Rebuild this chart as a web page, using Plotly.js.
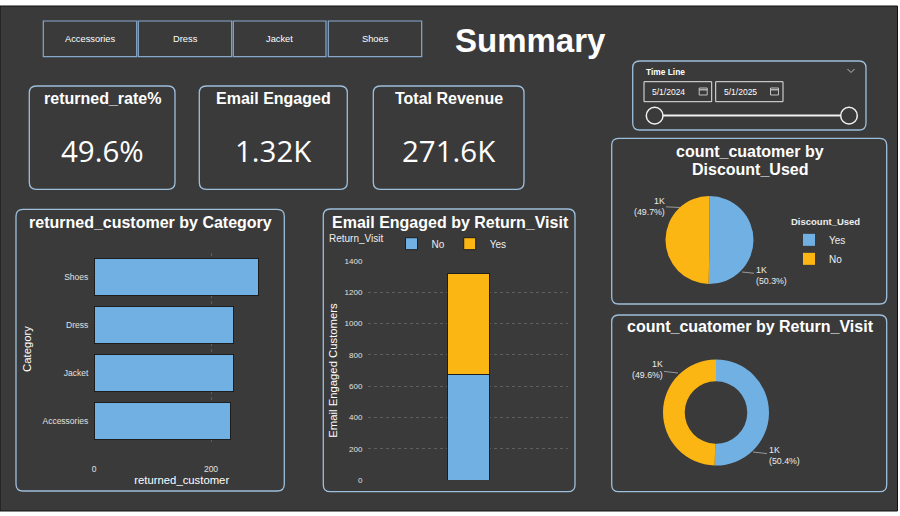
<!DOCTYPE html>
<html><head><meta charset="utf-8">
<script src="https://cdn.plot.ly/plotly-3.0.1.min.js"></script>
<style>html,body{margin:0;padding:0;background:#fff;overflow:hidden}#chart{width:900px;height:516px}</style>
</head><body><div id="chart"></div>
<script>
// ---------- data ----------
const categories = ['Shoes', 'Dress', 'Jacket', 'Accessories'];
const returnedCustomers = [281, 239, 238, 234];
const returnVisitLabels = ['No', 'Yes'];
const emailEngagedByVisit = [675, 642];
const discountLabels = ['Yes', 'No'];
const discountCounts = [1006, 994];
const visitLabels = ['No', 'Yes'];
const visitCounts = [1008, 992];
const totalRevenue = 271600;
const dateRange = ['5/1/2024', '5/1/2025'];
const barTicks = [0, 200];
const emailTicks = [0, 200, 400, 600, 800, 1000, 1200, 1400];

// ---------- helpers ----------
const W = 900, H = 516;
const px = x => x / W, py = y => 1 - y / H;
const BG = '#3a3a3a', BLUE = '#71B0E2', YELLOW = '#FCB614', BORDER = '#9dbfdc', WHITE = '#ffffff';
const FONT = 'Liberation Sans, Arial, sans-serif';
const VFONT = 'Open Sans, Noto Sans, sans-serif';
const sum = a => a.reduce((s, v) => s + v, 0);

const shapes = [];
const annotations = [];

function rr(x0, y0, x1, y1, r) {
  const rx = r / W, ry = r / H;
  const X0 = px(x0), X1 = px(x1), T = py(y0), B = py(y1);
  if (!r) return `M${X0},${T} L${X1},${T} L${X1},${B} L${X0},${B} Z`;
  return `M${X0 + rx},${T} L${X1 - rx},${T} Q${X1},${T} ${X1},${T - ry} L${X1},${B + ry} Q${X1},${B} ${X1 - rx},${B} ` +
    `L${X0 + rx},${B} Q${X0},${B} ${X0},${B + ry} L${X0},${T - ry} Q${X0},${T} ${X0 + rx},${T} Z`;
}
function card(x0, y0, x1, y1, r, color, w) {
  shapes.push({type: 'path', xref: 'paper', yref: 'paper', path: rr(x0, y0, x1, y1, r),
    line: {color: color || BORDER, width: w || 1.3}, fillcolor: 'rgba(0,0,0,0)', layer: 'below'});
}
function txt(text, x, y, size, opts) {
  opts = opts || {};
  annotations.push(Object.assign({
    xref: 'paper', yref: 'paper', x: px(x), y: py(y), text: text, showarrow: false,
    font: {family: opts.family || FONT, size: size, color: opts.color || WHITE},
    xanchor: opts.xanchor || 'center', yanchor: 'middle', align: opts.align || 'center'
  }, opts.extra || {}));
}
function pieLabel(text, ex, ey, ax, ay, align) {
  annotations.push({xref: 'paper', yref: 'paper', x: px(ex), y: py(ey), text: text,
    showarrow: true, arrowhead: 0, arrowwidth: 0.8, arrowcolor: '#b0b0b0', ax: ax, ay: ay,
    standoff: 0, startstandoff: 0, align: align,
    font: {family: FONT, size: 8.8, color: '#ececec'}});
}

// ---------- background ----------
shapes.push({type: 'rect', xref: 'paper', yref: 'paper', x0: 0, x1: px(897.5), y0: py(511), y1: py(6),
  fillcolor: BG, line: {color: '#111', width: 1}, layer: 'below'});

// ---------- category buttons ----------
const buttonCats = categories.slice().sort();
const btnX = [[43.3, 136.7], [138.3, 231.7], [233.3, 326], [328.3, 421.7]];
buttonCats.forEach((c, i) => {
  card(btnX[i][0], 21, btnX[i][1], 56.7, 0, '#86a9cb', 1.2);
  txt(c, (btnX[i][0] + btnX[i][1]) / 2, 38.7, 9.3);
});

// ---------- title ----------
txt('<b>Summary</b>', 530.5, 40, 33);

// ---------- KPI cards ----------
const returnedRate = visitCounts[1] / sum(visitCounts) * 100;
const emailTotal = sum(emailEngagedByVisit);
const kpiTitles = ['returned_rate%', 'Email Engaged', 'Total Revenue'];
const kpiValues = [returnedRate.toFixed(1) + '%', (emailTotal / 1000).toFixed(2) + 'K', (totalRevenue / 1000).toFixed(1) + 'K'];
const kpiX = [[29.3, 175], [199.3, 347.3], [373.3, 524]];
kpiTitles.forEach((t, i) => {
  card(kpiX[i][0], 86, kpiX[i][1], 189.3, 7);
  const cx = (kpiX[i][0] + kpiX[i][1]) / 2;
  txt('<b>' + t + '</b>', cx, 98.7, 16);
  txt(kpiValues[i], cx, 150.5, 29.5, {family: VFONT});
});

// ---------- time line slicer ----------
card(632.7, 61, 866, 130, 7);
txt('<b>Time Line</b>', 644, 72, 8.4, {xanchor: 'left'});
shapes.push({type: 'path', xref: 'paper', yref: 'paper',
  path: `M${px(847.5)},${py(69)} L${px(851)},${py(72.5)} L${px(854.5)},${py(69)}`,
  line: {color: '#bdbdbd', width: 1}, layer: 'below'});
const dateBoxes = [[644, 711.7], [715.7, 783]];
dateRange.forEach((d, i) => {
  const [a, b] = dateBoxes[i];
  card(a, 81.7, b, 101.7, 0, '#e6e6e6', 1);
  txt(d, a + 6, 92, 8.5, {xanchor: 'left'});
  card(b - 12.5, 88, b - 4.5, 95, 0, '#cfcfcf', 0.9);
  shapes.push({type: 'line', xref: 'paper', yref: 'paper', x0: px(b - 12.5), x1: px(b - 4.5), y0: py(89.8), y1: py(89.8),
    line: {color: '#cfcfcf', width: 1.2}, layer: 'below'});
});
shapes.push({type: 'line', xref: 'paper', yref: 'paper', x0: px(663), x1: px(841), y0: py(115.5), y1: py(115.5),
  line: {color: '#f0f0f0', width: 2}, layer: 'below'});
[[646.3, 663], [840.7, 857.3]].forEach(([a, b]) => {
  shapes.push({type: 'circle', xref: 'paper', yref: 'paper', x0: px(a), x1: px(b), y0: py(124), y1: py(107.3),
    line: {color: '#f0f0f0', width: 1.5}, fillcolor: BG, layer: 'below'});
});

// ---------- chart cards ----------
card(16, 209.3, 284.3, 491, 7);
txt('<b>returned_customer by Category</b>', 150.5, 222.7, 16);
card(323.3, 209, 575, 491.7, 7);
txt('<b>Email Engaged by Return_Visit</b>', 450, 222.7, 16);
card(611.7, 138.3, 886.7, 304, 7);
txt('<b>count_cuatomer by</b>', 749.7, 151, 16);
txt('<b>Discount_Used</b>', 749.7, 169.5, 16);
card(611.7, 315, 886.7, 491.7, 7);
txt('<b>count_cuatomer by Return_Visit</b>', 750.5, 326.7, 16);

// ---------- pie labels ----------
const fmtPie = (v, arr) => Math.round(v / 1000) + 'K<br>(' + (v / sum(arr) * 100).toFixed(1) + '%)';
pieLabel(fmtPie(discountCounts[1], discountCounts), 680, 207.5, -31, -1.5, 'right');
pieLabel(fmtPie(discountCounts[0], discountCounts), 742, 272, 29, 3, 'left');
pieLabel(fmtPie(visitCounts[1], visitCounts), 678, 373, -31, -3.5, 'right');
pieLabel(fmtPie(visitCounts[0], visitCounts), 753, 452, 31, 3.5, 'left');

// ---------- traces ----------
const barLine = {color: '#1e1e1e', width: 1};
const traces = [
  {type: 'bar', orientation: 'h', x: returnedCustomers, y: categories, xaxis: 'x', yaxis: 'y',
   marker: {color: BLUE, line: barLine}, showlegend: false, hoverinfo: 'x+y'},
  {type: 'bar', name: returnVisitLabels[0], x: ['Email Engaged'], y: [emailEngagedByVisit[0]], xaxis: 'x2', yaxis: 'y2',
   width: 0.21, marker: {color: BLUE, line: barLine}, legend: 'legend'},
  {type: 'bar', name: returnVisitLabels[1], x: ['Email Engaged'], y: [emailEngagedByVisit[1]], xaxis: 'x2', yaxis: 'y2',
   width: 0.21, marker: {color: YELLOW, line: barLine}, legend: 'legend'},
  {type: 'pie', labels: discountLabels, values: discountCounts, sort: false, direction: 'clockwise', rotation: 0,
   marker: {colors: [BLUE, YELLOW], line: {width: 0}}, textinfo: 'none', legend: 'legend2',
   domain: {x: [px(665.5), px(753.5)], y: [py(284), py(196)]}},
  {type: 'pie', labels: visitLabels, values: visitCounts, sort: false, direction: 'clockwise', rotation: 0, hole: 0.59,
   marker: {colors: [BLUE, YELLOW], line: {width: 0}}, textinfo: 'none', legend: 'legend3',
   domain: {x: [px(663), px(769)], y: [py(465.5), py(359.5)]}}
];

const tickFont = {family: FONT, size: 8.5, color: '#e0e0e0'};
const titleFont = {family: FONT, size: 11.3, color: WHITE};
const legendBase = {bgcolor: 'rgba(0,0,0,0)', font: {family: FONT, size: 10, color: '#eeeeee'},
  itemclick: false, itemdoubleclick: false, traceorder: 'normal', itemwidth: 30};

const layout = {
  width: W, height: H, margin: {l: 0, r: 0, t: 0, b: 0},
  paper_bgcolor: '#ffffff', plot_bgcolor: 'rgba(0,0,0,0)',
  barmode: 'stack', bargap: 0.23, showlegend: true,
  xaxis: {domain: [px(94), px(269.5)], range: [0, 300], tickvals: barTicks, anchor: 'y',
    showgrid: true, gridcolor: '#5e5e5e', griddash: 'dot', zeroline: false, showline: false,
    ticks: 'outside', ticklen: 16, tickcolor: 'rgba(0,0,0,0)', tickfont: tickFont,
    title: {text: 'returned_customer', font: titleFont, standoff: 2}, fixedrange: true},
  yaxis: {domain: [py(445), py(253)], type: 'category', range: [3.5, -0.5], autorange: false, anchor: 'x',
    showgrid: false, zeroline: false, ticks: 'outside', ticklen: 3, tickcolor: 'rgba(0,0,0,0)', tickfont: tickFont,
    title: {text: 'Category', font: titleFont, standoff: 8}, fixedrange: true},
  xaxis2: {domain: [px(368), px(568)], anchor: 'y2', range: [-0.5, 0.5], showticklabels: false,
    showgrid: false, zeroline: false, showline: false, fixedrange: true},
  yaxis2: {domain: [py(480), py(261)], anchor: 'x2', range: [0, 1400], tickvals: emailTicks,
    showgrid: true, gridcolor: '#5e5e5e', griddash: 'dot', zeroline: false,
    ticks: 'outside', ticklen: 3, tickcolor: 'rgba(0,0,0,0)', tickfont: {family: FONT, size: 8, color: '#e0e0e0'},
    title: {text: 'Email Engaged Customers', font: titleFont, standoff: 4}, fixedrange: true},
  legend: Object.assign({}, legendBase, {orientation: 'h', x: px(327), y: py(243.7), xanchor: 'left', yanchor: 'middle',
    title: {text: 'Return_Visit', side: 'left', font: {family: FONT, size: 10, color: '#eeeeee'}}}),
  legend2: Object.assign({}, legendBase, {x: px(789), y: py(213), xanchor: 'left', yanchor: 'top',
    title: {text: '<b>Discount_Used</b>', side: 'top', font: {family: FONT, size: 9.5, color: '#eeeeee'}}}),
  legend3: Object.assign({}, legendBase, {x: px(802), y: py(386), xanchor: 'left', yanchor: 'top',
    title: {text: '<b>Return_Visit</b>', side: 'top', font: {family: FONT, size: 9.5, color: '#eeeeee'}}}),
  shapes: shapes, annotations: annotations
};

Plotly.newPlot('chart', traces, layout, {displayModeBar: false, responsive: false});
</script></body></html>
